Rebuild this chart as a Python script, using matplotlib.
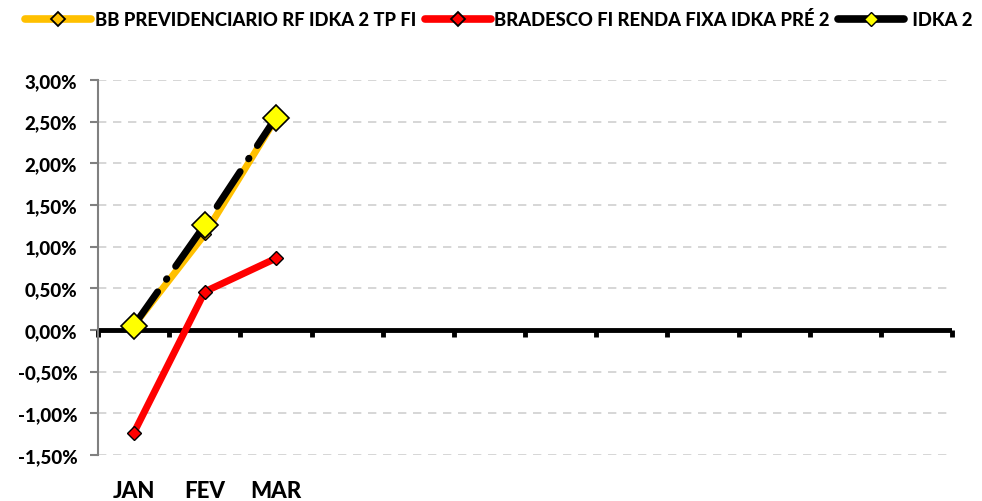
import matplotlib
matplotlib.use("Agg")
import matplotlib.pyplot as plt
from matplotlib.lines import Line2D
from matplotlib.ticker import FuncFormatter, MultipleLocator

plt.rcParams['font.family'] = ['Lato', 'DejaVu Sans']

months = ["JAN", "FEV", "MAR", "", "", "", "", "", "", "", "", ""]
bb_prev = [0.05, 1.15, 2.54]
bradesco = [-1.24, 0.46, 0.86]
idka2 = [0.05, 1.26, 2.55]

series_names = ["BB PREVIDENCIARIO RF IDKA 2 TP FI",
                "BRADESCO FI RENDA FIXA IDKA PRÉ 2",
                " IDKA 2"]

fig = plt.figure(figsize=(9.82, 5.02), dpi=100)
ax = fig.add_axes([0.0998, 0.0916, 0.8697, 0.747])

x = list(range(len(bb_prev)))

ax.plot(x, bb_prev, color="#FFC000", lw=5, marker="D", ms=6,
        mfc="#FFC000", mec="black", mew=1, zorder=3, solid_capstyle="round")
ax.plot(x, bradesco, color="#FF0000", lw=5, marker="D", ms=7,
        mfc="#FF0000", mec="black", mew=1, zorder=3, solid_capstyle="round")
ax.plot(x, idka2, color="black", lw=5, dashes=(6, 2.2, 0.1, 2.2),
        dash_capstyle="round", marker="D", ms=13, mfc="#FFFF00",
        mec="black", mew=1.2, zorder=4)

ax.set_xlim(-0.5, len(months) - 0.5)
ax.set_ylim(-1.5, 3.0)
ax.yaxis.set_major_locator(MultipleLocator(0.5))
ax.yaxis.set_major_formatter(FuncFormatter(
    lambda v, p: ("%.2f%%" % v).replace(".", ",").replace("-0,00", "0,00")))

ax.grid(axis="y", color="#D0D0D0", ls=(0, (5, 4)), lw=1.2, zorder=0)

for s in ["top", "right", "bottom"]:
    ax.spines[s].set_visible(False)
ax.spines["left"].set_color("#808080")
ax.spines["left"].set_linewidth(1.5)
ax.spines["left"].set_bounds(-1.5, 3.0)

# zero line with category boundary ticks
ax.axhline(0, color="black", lw=3.5, zorder=2)
for b in range(len(months) + 1):
    ax.plot([b - 0.5, b - 0.5], [0, -0.085], color="black", lw=3.5,
            solid_capstyle="butt", zorder=2, clip_on=False)

ax.tick_params(axis="y", length=6, width=1.5, color="#808080", pad=9,
               labelsize=13.5)
ax.set_xticks(range(len(months)))
ax.set_xticklabels(months)
ax.tick_params(axis="x", length=0, pad=18, labelsize=16)
for lab in ax.get_xticklabels() + ax.get_yticklabels():
    lab.set_fontweight("black")

handles = [
    Line2D([], [], color="#FFC000", lw=5.5, marker="D", ms=7, mfc="#FFC000",
           mec="black", mew=1.3, solid_capstyle="round"),
    Line2D([], [], color="#FF0000", lw=5.5, marker="D", ms=7, mfc="#FF0000",
           mec="black", mew=1.3, solid_capstyle="round"),
    Line2D([], [], color="black", lw=5.5, marker="D", ms=7, mfc="#FFFF00",
           mec="black", mew=1, solid_capstyle="round"),
]
fig.legend(handles, series_names, loc="upper center", ncol=3,
           bbox_to_anchor=(0.508, 0.978), frameon=False, handlelength=3.6,
           handletextpad=0.2, columnspacing=0.45, borderpad=0,
           borderaxespad=0, prop={"weight": "black", "size": 13.2})

fig.savefig("out.png", dpi=100)
